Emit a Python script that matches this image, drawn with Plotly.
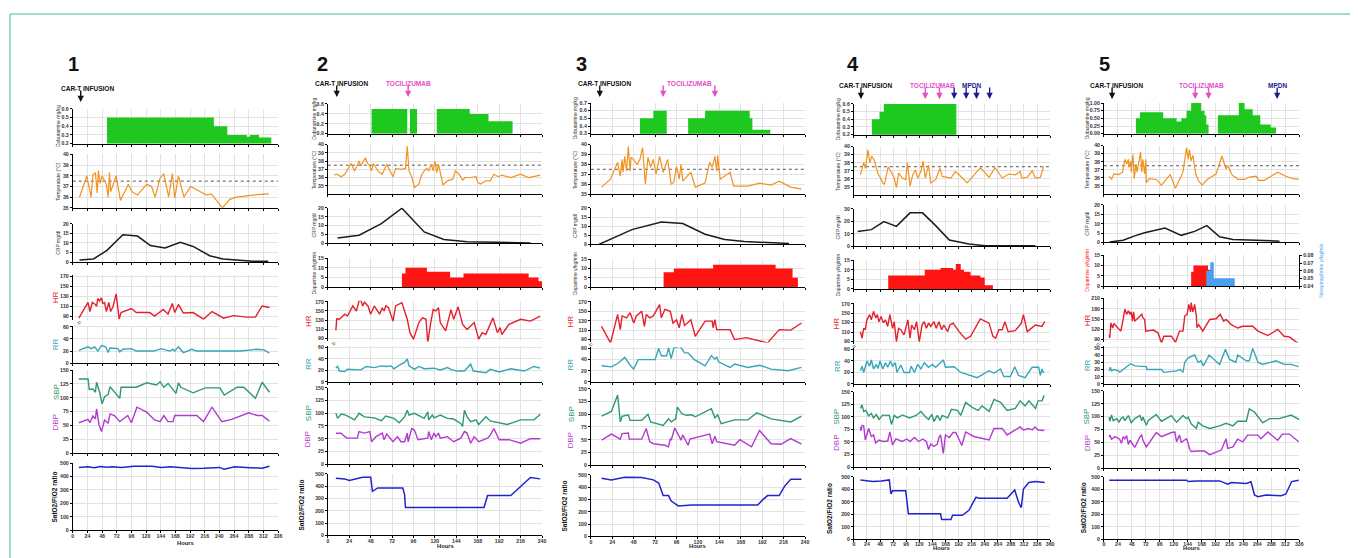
import plotly.graph_objects as go

W, H = 1358, 558
FONT = "Liberation Sans"
# the page body adds an 8px margin around the plot div; compensate so the
# picture lines up with the reference pixel positions
OFF = 8

# ---------------- DATA ----------------
FEVER = 37.5
# Patient 1
P1_DEX_X = [56, 231, 253, 285, 290, 305, 325]
P1_DEX = [0.5, 0.4, 0.3, 0.28, 0.3, 0.27, 0.27]
P1_TEMP_H = [11,23,30,33,37,40,42,45,48,52,55,58,60,62,65,71,78,91,97,106,121,129,135,143,149,157,163,167,173,182,193,208,219,227,245,257,268,295,321]
P1_TEMP = [36.0,38.0,36.0,38.1,38.3,36.4,38.5,37.3,38.0,37.5,37.2,36.0,38.3,36.5,37.0,38.0,35.7,37.2,36.5,36.2,37.2,37.0,36.0,37.8,38.2,36.0,38.2,35.9,38.0,36.0,37.0,36.5,36.2,36.3,35.0,35.8,36.0,36.2,36.3]
P1_CRP_H = [11,34,56,82,106,127,151,176,197,224,246,268,295,320]
P1_CRP = [1.2,1.7,6.2,14.3,13.6,8.7,7.4,10.4,8.2,3.4,1.7,1.0,0.5,0.5]
P1_HR_H = [10,25,28,32,37,39,41,44,47,49,52,55,59,62,66,71,76,79,96,104,126,134,148,156,163,167,173,181,197,214,228,247,263,285,299,310,322]
P1_HR = [87,118,100,118,114,110,126,121,127,116,118,100,118,100,110,135,85,98,106,98,98,91,104,95,116,98,114,97,98,85,100,87,92,89,89,111,108]
P1_RR_H = [10,25,30,36,41,47,54,58,61,74,77,82,96,104,132,145,159,164,167,173,181,195,203,274,302,313,322]
P1_RR = [21,27,24,27,20,29,27,17.5,25,24,18.6,23,24,20,20,24,20,23,20,27,17.5,23,20,20,23,22,16.5]
P1_SBP_H = [10,25,27,33,37,39,44,48,52,58,61,77,79,104,121,137,143,149,156,164,169,173,177,197,217,241,248,269,280,299,310,322]
P1_SBP = [134,134,115,116,110,128,110,89,102,106,120,99,119,119,127,123,129,119,126,116,108,127,119,109,118,118,105,119,119,99,128,110]
P1_DBP_H = [10,25,28,33,37,39,43,47,52,58,61,68,77,90,96,105,121,134,143,149,156,164,167,203,214,228,244,260,288,302,310,322]
P1_DBP = [55,61,55,67,62,80,51,39,60,54,71,68,57,68,55,83,74,60,57,68,57,57,68,68,57,83,57,61,73,68,68,58]
P1_SPO2_H = [10,25,35,45,55,65,80,100,130,145,160,175,195,215,240,248,265,290,310,322]
P1_SPO2 = [468,472,466,475,470,472,468,476,476,468,473,468,460,462,468,455,472,466,462,476]

# Patient 2
P2_DEX_X = [49, 89, 92, 100, 122, 159, 180, 207]
P2_DEX = [0.5, 0, 0.5, 0, 0.5, 0.4, 0.25, 0.25]
P2_TEMP_H = [7,10,15,19,26,30,33,35,37,39,42,44,47,49,51,56,61,66,69,73,76,82,87,89,91,94,97,102,105,108,111,113,116,118,120,122,124,126,129,134,140,143,147,151,154,160,166,168,171,177,182,186,191,195,205,216,225,238]
P2_TEMP = [36.3,36.4,36.1,36.4,37.7,36.8,37.5,38.0,37.4,37.8,38.4,37.8,37.4,36.8,37.7,36.8,36.4,37.6,37.0,36.1,37.1,37.0,37.1,39.8,36.8,36.1,34.8,35.2,36.3,36.8,37.1,36.8,37.6,36.8,38.0,36.6,37.6,36.6,35.1,35.6,35.8,36.8,36.4,35.7,36.0,36.0,36.1,35.4,35.2,35.6,35.6,36.4,36.1,36.3,36.0,36.4,36.0,36.3]
P2_CRP_H = [11,35,60,83,108,130,156,186,227]
P2_CRP = [3.1,4.6,11.1,19.8,6.5,2.2,0.9,0.6,0.3]
P2_DOP_X = [83, 87, 111, 137, 152, 225, 236, 240]
P2_DOP = [7, 10, 8, 5, 7, 5, 3, 3]
P2_HR_H = [9,10,13,19,22,28,32,36,39,41,45,48,52,58,61,63,65,68,73,76,83,89,92,96,102,106,110,112,115,118,121,124,126,132,138,141,146,151,156,164,169,173,177,185,190,193,195,203,216,227,238]
P2_HR = [108,133,132,143,139,161,150,179,161,169,161,143,161,143,157,150,161,157,128,161,168,132,103,89,125,135,132,81,121,153,150,157,125,107,153,132,159,121,110,125,89,103,99,135,103,114,99,121,132,128,139]
P2_RR_H = [9,11,13,19,22,37,43,52,60,65,71,74,82,86,89,91,97,102,108,119,126,134,138,145,153,160,163,177,182,192,205,220,231,238]
P2_RR = [24.5,27,19,18,22,21,27,25,28,27,28,23,31,34,40,28,22,27,23,24,21,25,22,19,19,31,19,16,22,17.5,23,19,27,24]
P2_SBP_H = [9,11,15,20,30,35,41,52,60,65,74,80,86,89,91,97,108,112,113,117,119,126,134,141,149,151,153,156,160,166,169,177,182,192,201,216,231,238]
P2_SBP = [100,90,98.5,96.5,87,100,93,91,85.5,94.6,90,81.5,93,106,96.5,100,90,103,87,96.5,91,96.5,90,88.7,80,74,106,93,83.5,87,78,93,85,82,78,87,87,98]
P2_DBP_H = [9,15,19,22,33,35,41,47,49,54,61,63,66,73,78,82,86,89,90,94,97,101,112,113,116,119,121,124,126,134,141,149,153,156,160,164,169,179,182,186,192,203,216,227,238]
P2_DBP = [60.7,60.7,54,51,51,64,61,64,44,54,61,48,59,44,54,44,44,61,44,70,67,48,51,64,48,61,54,61,51,54,44,51,64,61,41,54,44,51,57,70,48,48,41,50,50]
P2_SPO2_H = [9,19,24,30,39,48,50,56,84,86,87,175,179,205,218,227,238]
P2_SPO2 = [465,460,447,460,473,473,359,386,386,332,226,226,324,324,412,471,460]

# Patient 3
P3_DEX_X = [55, 70, 85, 109, 128, 178, 181, 201]
P3_DEX = [0.5, 0.6, 0, 0.5, 0.6, 0.5, 0.35, 0.35]
P3_TEMP_H = [12,22,30,33,35,36,38,40,42,44,45,48,49,52,55,58,61,64,67,70,73,77,81,86,90,93,96,99,101,103,107,112,117,128,133,136,139,141,142,145,156,160,176,189,202,211,224,236]
P3_TEMP = [35.7,36.5,38.2,36.8,38.5,37.2,38.8,37.3,39.8,37.3,38.7,38.5,38.3,38.0,38.5,39.7,36.0,38.7,37.7,38.5,37.0,38.8,37.2,38.5,36.0,36.2,37.8,36.5,38.0,36.3,36.7,37.2,35.7,36.1,38.2,37.7,38.8,37.3,38.9,36.5,37.2,35.8,35.8,36.1,35.9,36.3,35.7,35.5]
P3_CRP_H = [9,46,79,103,128,150,172,202,222]
P3_CRP = [0,8.1,12.3,11.4,5.6,2.7,1.6,1.1,0.5]
P3_DOP_X = [81.5, 93, 137, 207, 226, 232]
P3_DOP = [8, 10, 12, 10, 5, 5]
P3_HR_H = [12,22,30,33,35,40,44,48,51,57,60,62,66,70,77,79,83,89,92,96,99,102,105,112,117,128,136,137,139,141,156,161,174,195,198,211,224,236]
P3_HR = [118,83,143,111,140,136,147,125,140,150,118,143,136,140,164,136,154,150,125,132,115,143,120,132,97,129,129,115,132,111,111,90,94,84,83,111,110,125]
P3_RR_H = [12,23,30,38,44,48,53,72,76,79,85,87,90,93,100,105,109,116,128,135,139,141,143,156,161,176,189,202,221,236]
P3_RR = [29,27,33,44,30,23,40,40,60,47,47,61,42,61,64,52,52,40,29,47,41,45,36,26,32,26,30,23,20,26]
P3_SBP_H = [12,23,30,33,35,42,44,57,64,67,81,87,90,95,97,102,107,113,117,133,135,139,142,146,161,176,186,202,224,236]
P3_SBP = [96.5,105.6,138,85,96,99,88,88,100,85,78,91,85,91,114,101,98,99,95,108,111,93,99,81.5,89,89,103,91,85,96.5]
P3_DBP_H = [12,23,33,35,42,43,57,62,66,70,83,87,89,90,94,98,101,103,109,111,133,136,139,141,161,167,180,189,202,213,224,236]
P3_DBP = [49,61,51,62,63,51,51,72,46,42,39,36,52,49,73,59,49,59,39,51,61,42,57,46,39,50,36,68,42,41,52,41]
P3_SPO2_H = [12,23,38,57,70,76,81,87,90,98,113,187,193,198,211,217,224,236]
P3_SPO2 = [473,460,481,479,460,434,332,332,287,247,255,255,301,332,332,407,465,465]

# Patient 4
P4_DEX_X = [33, 47, 55, 188]
P4_DEX = [0.4, 0.5, 0.6, 0.6]
P4_TEMP_H = [12,15,18,21,26,29,33,38,41,44,48,53,56,59,63,68,74,78,82,89,95,98,103,108,113,117,123,127,131,137,141,150,158,162,178,186,193,208,223,232,248,259,272,284,296,305,308,318,327,333,342,348]
P4_TEMP = [36.5,37.3,38.0,37.3,39.6,38.0,38.8,38.2,37.3,36.7,36.2,35.5,35.3,36.1,37.5,36.9,36.1,34.9,36.7,36.1,35.9,38.0,35.1,36.5,37.1,36.1,36.9,38.2,36.1,37.7,35.5,35.9,37.3,36.3,36.1,36.9,36.5,35.5,36.7,37.4,36.2,37.4,36.1,36.6,36.5,36.9,36.1,36.2,37.0,36.1,36.2,37.5]
P4_CRP_H = [7,32,55,78,103,126,150,175,211,241,333]
P4_CRP = [12,13.4,19.8,16,26.8,26.8,16.6,5.1,1.9,0.5,0.5]
P4_DOP_X = [63, 130, 159, 182, 187, 196, 202, 214, 232, 240, 255]
P4_DOP = [7, 10, 11, 10, 13, 10, 9, 7, 6, 2, 2]
P4_HR_H = [12,15,18,21,24,29,32,36,40,43,46,50,54,58,62,66,71,74,78,82,86,92,99,103,106,111,115,120,125,129,133,137,141,147,151,156,161,165,172,176,182,186,193,205,214,232,248,255,260,266,272,277,283,296,307,311,318,333,345,350]
P4_HR = [111,97,118,115,136,147,136,154,140,147,132,143,130,136,122,147,118,132,90,118,115,104,136,97,125,115,132,90,125,132,118,129,122,132,118,132,115,125,111,125,129,122,111,95,101,138,129,101,97,115,115,132,111,113,129,147,111,125,122,132]
P4_RR_H = [12,15,18,21,24,29,32,36,41,44,48,53,58,62,67,71,76,79,86,92,102,105,111,117,123,129,137,144,150,159,164,168,184,196,211,226,248,257,269,275,287,295,302,314,327,339,342,345,348]
P4_RR = [23,31,20,29,40,31,42,26,34,27,40,26,37,29,40,31,37,20,33,20,20,31,20,34,26,37,29,34,29,37,42,29,30,20,15,11,23,19,26,13,13,30,15,11,29,29,15,26,19]
P4_SBP_H = [12,15,18,22,27,32,36,41,46,53,59,65,69,74,80,89,102,114,123,129,137,143,147,153,158,162,172,179,190,196,205,217,228,235,248,257,269,281,296,305,314,321,333,338,345,349]
P4_SBP = [117,124,111,113,102,107,98,105,95,104,103,103,85,103,98,104,98,103,111,103,95,105,91,103,93,103,98,115,113,103,129,119,113,122,111,135,129,113,117,132,122,132,117,132,132,143]
P4_DBP_H = [12,13,15,18,21,24,27,32,36,40,46,53,62,66,71,77,89,97,103,111,119,126,133,137,141,147,153,156,159,164,168,175,182,187,198,205,220,248,257,272,281,305,311,321,327,332,338,349]
P4_DBP = [80,72,83,82,54,64,77,61,64,48,54,51,52,70,44,56,51,56,51,59,51,56,51,35,46,41,46,59,64,27,64,59,69,69,43,70,61,54,77,77,64,80,74,77,74,80,74,73]
P4_SPO2_H = [12,22,35,50,65,68,71,95,100,159,161,178,181,199,211,224,229,281,295,302,307,311,321,333,350]
P4_SPO2 = [476,468,463,468,476,363,389,389,205,205,158,158,192,192,232,337,329,329,395,297,253,403,455,463,455]

# Patient 5
P5_DEX_X = [55,62,102,125,133,142,150,167,173,176,180,196,232,242,256,269,287,296]
P5_DEX = [0.5,0.7,0.5,0.4,0.5,0.75,1.0,0.75,0.6,0.3,0,0.6,1.0,0.8,0.6,0.3,0.2,0.2]
P5_TEMP_H = [9,13,17,25,32,36,39,42,43,46,47,50,52,55,57,60,63,65,67,70,72,73,78,90,99,114,123,136,142,145,147,150,153,158,162,169,176,193,203,210,213,217,221,226,230,242,250,262,266,276,285,299,313,325,335]
P5_TEMP = [36.2,35.8,36.5,36.4,36.7,38.3,37.7,38.3,37.3,38.1,36.7,38.9,35.9,37.7,36.7,38.1,39.2,36.7,38.3,36.5,38.3,35.4,35.9,35.8,35.1,36.4,34.7,36.7,39.7,38.3,39.5,38.1,38.8,36.5,35.7,35.1,35.7,36.5,38.7,37.1,37.5,36.9,36.3,36.1,35.8,35.8,36.1,36.2,35.7,35.7,36.1,36.7,36.2,35.9,35.8]
P5_CRP_H = [10,33,53,70,105,133,156,177,199,222,262,302]
P5_CRP = [0.3,1.2,3.5,5.2,7.7,3.8,5.9,9.0,3.0,1.6,1.2,0.7]
P5_DOP_X = [150, 154, 179, 185]
P5_DOP = [7, 10, 8, 8]
P5_NOR_X = [176, 183, 189, 225]
P5_NOR = [0.06, 0.071, 0.05, 0.05]
P5_HR_H = [9,10,12,15,17,22,29,33,36,39,42,45,47,49,51,53,59,65,67,70,72,85,93,99,103,116,123,130,136,139,143,146,149,150,153,156,159,160,163,170,182,193,200,206,210,219,230,239,256,265,282,299,310,319,335]
P5_HR = [105,95,139,124,137,129,115,149,179,164,174,164,171,144,171,144,154,164,154,149,115,118,110,80,100,100,82,115,115,159,164,193,171,198,171,193,159,125,134,115,149,151,164,144,149,134,124,129,129,115,102,120,100,98,78]
P5_RR_H = [9,11,13,17,25,27,33,46,53,73,74,99,103,125,131,136,139,145,156,162,167,171,181,187,199,209,216,227,230,245,250,256,265,273,296,310,322,335]
P5_RR = [18,23,18,20,18,16,20,28,25,24,20,20,16,18,20,16,30,36,40,30,32,25,40,36,27,48,34,30,40,32,32,49,30,27,32,27,27,24]
P5_SBP_H = [9,10,13,16,22,26,29,33,36,42,47,53,62,65,67,73,76,90,99,116,125,136,142,145,150,159,162,170,182,199,210,222,230,245,250,259,273,285,302,322,336]
P5_SBP = [99,91,103,92,96,89,96,99,92,102,88,96,102,92,99,83,92,104,91,102,89,102,96,99,86,77,89,82,77,82,87,82,91,91,115,109,88,96,96,103,94]
P5_DBP_H = [9,10,13,19,27,30,33,36,39,42,45,53,62,65,67,73,90,99,116,122,125,130,133,142,145,147,150,159,173,182,202,210,213,222,230,239,247,265,270,282,299,307,319,335]
P5_DBP = [61,64,56,61,56,48,61,57,63,46,54,40,61,64,54,41,69,61,69,70,51,64,50,57,48,38,32,33,33,26,35,57,38,41,56,51,64,64,57,70,54,66,66,51]
P5_SPO2_H = [9,67,142,145,159,199,213,219,245,253,259,265,279,305,313,323,335]
P5_SPO2 = [474,474,474,463,468,468,442,455,447,461,355,342,355,350,363,463,474]

# Treatment events (hours)
CART_H = [13, 10, 10, 13, 14]
TOCI_H = [[], [90], [81, 139], [131, 157], [157, 180]]
MPDN_H = [[], [], [], [184, 206, 225, 249], [298]]

# ---------------- STYLE / LAYOUT ----------------
C = dict(dex="#1ec81e", temp="#f29320", crp="#1c1c1c", dop="#ff1414", nor="#4b9ef0",
         hr="#e3202c", rr="#35a6b8", sbp="#2c9a6e", dbp="#b23ad0", spo2="#2323cc")
GRID = "#e2e2e2"
TICKFONT = dict(family=FONT, size=5.2, color="#333", weight="bold")

COLS = [
    dict(num="1", numx=65, x0=72, x1=278, xmax=336, laby=81, tip=100, hours_y=551,
         lab_off=15, big_off=17, sat_off=18, sbp_lab=110, dbp_lab=55,
         data=dict(dex=(P1_DEX_X, P1_DEX), temp=(P1_TEMP_H, P1_TEMP), crp=(P1_CRP_H, P1_CRP),
                   hr=(P1_HR_H, P1_HR), rr=(P1_RR_H, P1_RR), sbp=(P1_SBP_H, P1_SBP),
                   dbp=(P1_DBP_H, P1_DBP), spo2=(P1_SPO2_H, P1_SPO2)),
         panels=dict(dex=(107, 142, [0.2, 0.6], [0.2, 0.3, 0.4, 0.5, 0.6], ".1f"),
                     temp=(153, 207, [35, 40], [35, 36, 37, 38, 39, 40], "d"),
                     crp=(223, 262, [0, 20], [0, 5, 10, 15, 20], "d"),
                     hr=(275, 320, [84, 172], [90, 110, 130, 150, 170], "d"),
                     rr=(326, 364, [0, 62], [0, 20, 40, 60], "d"),
                     bp=(371, 455, [0, 150], [0, 25, 50, 75, 100, 125, 150], "d"),
                     spo2=(465, 533, [0, 500], [0, 100, 200, 300, 400, 500], "d"))),
    dict(num="2", numx=315, x0=328, x1=543, xmax=240, laby=76, tip=95, hours_y=554,
         lab_off=14, big_off=20, sat_off=26, sbp_lab=100, dbp_lab=48,
         data=dict(dex=(P2_DEX_X, P2_DEX), temp=(P2_TEMP_H, P2_TEMP), crp=(P2_CRP_H, P2_CRP),
                   dop=(P2_DOP_X, P2_DOP),
                   hr=(P2_HR_H, P2_HR), rr=(P2_RR_H, P2_RR), sbp=(P2_SBP_H, P2_SBP),
                   dbp=(P2_DBP_H, P2_DBP), spo2=(P2_SPO2_H, P2_SPO2)),
         panels=dict(dex=(102, 132, [0, 0.6], [0, 0.2, 0.4, 0.6], ".1f"),
                     temp=(143, 193, [34, 40], [35, 36, 37, 38, 39, 40], "d"),
                     crp=(207, 243, [0, 20], [0, 5, 10, 15, 20], "d"),
                     dop=(258, 287, [0, 15], [0, 5, 10, 15], "d"),
                     hr=(301, 342, [84, 172], [90, 110, 130, 150, 170], "d"),
                     rr=(347, 383, [0, 62], [0, 20, 40, 60], "d"),
                     bp=(389, 466, [0, 150], [0, 25, 50, 75, 100, 125, 150], "d"),
                     spo2=(476, 538, [0, 500], [0, 100, 200, 300, 400, 500], "d"))),
    dict(num="3", numx=583, x0=592, x1=807, xmax=240, laby=76, tip=95, hours_y=554,
         lab_off=16, big_off=20, sat_off=26, sbp_lab=100, dbp_lab=48,
         data=dict(dex=(P3_DEX_X, P3_DEX), temp=(P3_TEMP_H, P3_TEMP), crp=(P3_CRP_H, P3_CRP),
                   dop=(P3_DOP_X, P3_DOP),
                   hr=(P3_HR_H, P3_HR), rr=(P3_RR_H, P3_RR), sbp=(P3_SBP_H, P3_SBP),
                   dbp=(P3_DBP_H, P3_DBP), spo2=(P3_SPO2_H, P3_SPO2)),
         panels=dict(dex=(101, 132, [0.3, 0.7], [0.3, 0.4, 0.5, 0.6, 0.7], ".1f"),
                     temp=(143, 193, [35, 40], [35, 36, 37, 38, 39, 40], "d"),
                     crp=(207, 244, [0, 20], [0, 5, 10, 15, 20], "d"),
                     dop=(259, 287, [0, 15], [0, 5, 10, 15], "d"),
                     hr=(301, 343, [84, 172], [90, 110, 130, 150, 170], "d"),
                     rr=(348, 383, [0, 62], [0, 20, 40, 60], "d"),
                     bp=(390, 467, [0, 150], [0, 25, 50, 75, 100, 125, 150], "d"),
                     spo2=(477, 539, [0, 500], [0, 100, 200, 300, 400, 500], "d"))),
    dict(num="4", numx=855, x0=856, x1=1053, xmax=360, laby=78, tip=97, hours_y=555.5,
         lab_off=16, big_off=17, sat_off=25, sbp_lab=100, dbp_lab=48,
         data=dict(dex=(P4_DEX_X, P4_DEX), temp=(P4_TEMP_H, P4_TEMP), crp=(P4_CRP_H, P4_CRP),
                   dop=(P4_DOP_X, P4_DOP),
                   hr=(P4_HR_H, P4_HR), rr=(P4_RR_H, P4_RR), sbp=(P4_SBP_H, P4_SBP),
                   dbp=(P4_DBP_H, P4_DBP), spo2=(P4_SPO2_H, P4_SPO2)),
         panels=dict(dex=(102, 133, [0.2, 0.6], [0.2, 0.3, 0.4, 0.5, 0.6], ".1f"),
                     temp=(145, 194, [34, 40], [35, 36, 37, 38, 39, 40], "d"),
                     crp=(208, 246, [0, 30], [0, 10, 20, 30], "d"),
                     dop=(260, 289, [0, 15], [0, 5, 10, 15], "d"),
                     hr=(303, 345, [84, 172], [90, 110, 130, 150, 170], "d"),
                     rr=(349, 385, [0, 62], [0, 20, 40, 60], "d"),
                     bp=(393, 469, [0, 150], [0, 25, 50, 75, 100, 125, 150], "d"),
                     spo2=(479, 542, [0, 500], [0, 100, 200, 300, 400, 500], "d"))),
    dict(num="5", numx=1115, x0=1107, x1=1303, xmax=336, laby=78, tip=97, hours_y=555.5,
         lab_off=17, big_off=17, sat_off=21, sbp_lab=100, dbp_lab=48,
         data=dict(dex=(P5_DEX_X, P5_DEX), temp=(P5_TEMP_H, P5_TEMP), crp=(P5_CRP_H, P5_CRP),
                   dop=(P5_DOP_X, P5_DOP), nor=(P5_NOR_X, P5_NOR),
                   hr=(P5_HR_H, P5_HR), rr=(P5_RR_H, P5_RR), sbp=(P5_SBP_H, P5_SBP),
                   dbp=(P5_DBP_H, P5_DBP), spo2=(P5_SPO2_H, P5_SPO2)),
         panels=dict(dex=(101, 132, [0, 1], [0, 0.25, 0.5, 0.75, 1.0], ".2f"),
                     temp=(144, 193, [34, 40], [35, 36, 37, 38, 39, 40], "d"),
                     crp=(204, 242, [0, 20], [0, 5, 10, 15, 20], "d"),
                     dop=(255, 286, [0, 15], [0, 5, 10, 15], "d"),
                     hr=(298, 343, [82, 212], [90, 120, 150, 180, 210], "d"),
                     rr=(347, 385, [0, 52], [0, 10, 20, 30, 40, 50], "d"),
                     bp=(392, 470, [0, 150], [0, 25, 50, 75, 100, 125, 150], "d"),
                     spo2=(479, 542, [0, 500], [0, 100, 200, 300, 400, 500], "d"))),
]

TITLES = dict(dex="Dobutamine mg/kg", temp="Temperature (°C)", crp="CRP mg/dl",
              dop="Dopamine γ/kg/min")

fig = go.Figure()
layout = {}
annotations = []
counter = [0]


def px(x):
    return (x - OFF) / W


def py(y):
    return 1 - (y - OFF) / H


def new_axes(col, top, bot, yrange, ytick, yfmt, xline=True, xlabels=False):
    counter[0] += 1
    n = counter[0]
    xa, ya = ("xaxis", "yaxis") if n == 1 else (f"xaxis{n}", f"yaxis{n}")
    xr, yr = ("x", "y") if n == 1 else (f"x{n}", f"y{n}")
    layout[xa] = dict(domain=[px(col["x0"]), px(col["x1"])], anchor=yr,
                      range=[0, col["xmax"]], tickvals=list(range(0, col["xmax"] + 1, 24)),
                      showticklabels=xlabels, showgrid=True, gridcolor=GRID, gridwidth=1,
                      showline=xline, linecolor="black", linewidth=1,
                      ticks="outside" if xline else "", ticklen=2, tickcolor="black",
                      zeroline=False, tickfont=TICKFONT, fixedrange=True)
    if xlabels:
        layout[xa]["ticklabelstandoff"] = -2
    layout[ya] = dict(domain=[py(bot), py(top)], anchor=xr, range=yrange, tickvals=ytick,
                      tickformat=yfmt, showgrid=True, gridcolor=GRID, gridwidth=1,
                      showline=True, linecolor="black", linewidth=1, ticks="outside",
                      ticklen=2, tickcolor="black", zeroline=False, tickfont=TICKFONT,
                      fixedrange=True)
    return xr, yr


def step_fill(xs, ys, color, xr, yr):
    fig.add_trace(go.Scatter(x=xs, y=ys, mode="lines", line=dict(shape="hv", width=0, color=color),
                             fill="tozeroy", fillcolor=color, xaxis=xr, yaxis=yr,
                             hoverinfo="skip", showlegend=False))


def line(xs, ys, color, xr, yr, width=1.4, dash="solid"):
    fig.add_trace(go.Scatter(x=xs, y=ys, mode="lines", line=dict(color=color, width=width, dash=dash),
                             xaxis=xr, yaxis=yr, hoverinfo="skip", showlegend=False))


def vtext(text, x, y, size, color="#333", bold=False, yref="paper"):
    annotations.append(dict(text=f"<b>{text}</b>" if bold else text, x=px(x), xref="paper",
                            y=y if yref != "paper" else py(y), yref=yref, textangle=-90,
                            showarrow=False, font=dict(family=FONT, size=size, color=color),
                            xanchor="center", yanchor="middle"))


def event_arrows(hours, color, xr, tip):
    for h in hours:
        annotations.append(dict(x=h, xref=xr, y=py(tip), yref="paper", text="", showarrow=True,
                                ax=0, ay=-13, arrowhead=2, arrowsize=0.9, arrowwidth=1.4,
                                arrowcolor=color))


for ci, col in enumerate(COLS):
    P = col["panels"]
    D = col["data"]
    x0 = col["x0"]
    dex_xr = None
    for key in ["dex", "temp", "crp", "dop"]:
        if key not in P:
            continue
        top, bot, rng, tv, fmt = P[key]
        xr, yr = new_axes(col, top, bot, rng, tv, fmt)
        if key == "dex":
            dex_xr = xr
            step_fill(D["dex"][0], D["dex"][1], C["dex"], xr, yr)
        elif key == "temp":
            line([0, col["xmax"]], [FEVER, FEVER], "#555", xr, yr, width=1, dash="dot")
            line(D["temp"][0], D["temp"][1], C["temp"], xr, yr, width=1.2)
        elif key == "crp":
            line(D["crp"][0], D["crp"][1], C["crp"], xr, yr, width=1.5)
        elif key == "dop":
            step_fill(D["dop"][0], D["dop"][1], C["dop"], xr, yr)
            if "nor" in D:
                counter[0] += 1
                n2 = counter[0]
                layout[f"yaxis{n2}"] = dict(overlaying=yr, side="right", anchor=xr,
                                            range=[0.04, 0.08],
                                            tickvals=[0.04, 0.05, 0.06, 0.07, 0.08],
                                            tickformat=".2f", showgrid=False, showline=True,
                                            linecolor="black", linewidth=1, ticks="outside",
                                            ticklen=2, tickcolor="black", zeroline=False,
                                            tickfont=TICKFONT, fixedrange=True)
                step_fill(D["nor"][0], D["nor"][1], C["nor"], xr, f"y{n2}")
                vtext("Norepinephrine γ/kg/min", col["x1"] + 22, (top + bot) / 2, 5, C["nor"])
        title_color = C["dop"] if (key == "dop" and "nor" in D) else "#333"
        vtext(TITLES[key], x0 - col["lab_off"], (top + bot) / 2, 5, title_color)

    # HR / RR
    top, bot, rng, tv, fmt = P["hr"]
    xr, yr = new_axes(col, top, bot, rng, tv, fmt, xline=False)
    line(D["hr"][0], D["hr"][1], C["hr"], xr, yr)
    vtext("HR", x0 - col["big_off"], (top + bot) / 2, 8, C["hr"])
    hr_bot = bot
    top, bot, rng, tv, fmt = P["rr"]
    xr, yr = new_axes(col, top, bot, rng, tv, fmt)
    line(D["rr"][0], D["rr"][1], C["rr"], xr, yr)
    vtext("RR", x0 - col["big_off"], (top + bot) / 2, 8, C["rr"])
    # axis break mark between HR and RR
    annotations.append(dict(text="=", x=px(x0), xref="paper", y=py((hr_bot + top) / 2),
                            yref="paper", showarrow=False, textangle=-30,
                            font=dict(family=FONT, size=7, color="#222")))

    # BP
    top, bot, rng, tv, fmt = P["bp"]
    xr, yr = new_axes(col, top, bot, rng, tv, fmt)
    line(D["sbp"][0], D["sbp"][1], C["sbp"], xr, yr)
    line(D["dbp"][0], D["dbp"][1], C["dbp"], xr, yr)
    vtext("SBP", x0 - col["big_off"], col["sbp_lab"], 8, C["sbp"], yref=yr)
    vtext("DBP", x0 - col["big_off"], col["dbp_lab"], 8, C["dbp"], yref=yr)

    # SpO2/FiO2
    top, bot, rng, tv, fmt = P["spo2"]
    xr, yr = new_axes(col, top, bot, rng, tv, fmt, xlabels=True)
    line(D["spo2"][0], D["spo2"][1], C["spo2"], xr, yr, width=1.5)
    vtext("SatO2/FiO2 ratio", x0 - col["sat_off"], (top + bot) / 2, 6.5, "#111", bold=True)
    annotations.append(dict(text="<b>Hours</b>", x=px((col["x0"] + col["x1"]) / 2), xref="paper",
                            y=py(col["hours_y"]), yref="paper", showarrow=False,
                            font=dict(family=FONT, size=5.8, color="#222")))

    # panel number
    annotations.append(dict(text=f"<b>{col['num']}</b>", x=px(col["numx"]), xref="paper",
                            y=py(48), yref="paper", showarrow=False,
                            font=dict(family=FONT, size=20, color="#111")))

    # event labels and arrows
    def ev_label(text, hours, color):
        annotations.append(dict(text=f"<b>{text}</b>", x=sum(hours) / len(hours), xref=dex_xr,
                                y=py(col["laby"]), yref="paper", showarrow=False,
                                font=dict(family=FONT, size=6.5, color=color)))
        event_arrows(hours, color, dex_xr, col["tip"])

    annotations.append(dict(text="<b>CAR-T INFUSION</b>", x=CART_H[ci], xref=dex_xr,
                            xanchor="left", xshift=-22 if ci == 0 else -24,
                            y=py(col["laby"]), yref="paper", showarrow=False,
                            font=dict(family=FONT, size=6.5, color="#111")))
    event_arrows([CART_H[ci]], "#111", dex_xr, col["tip"])
    if TOCI_H[ci]:
        ev_label("TOCILIZUMAB", TOCI_H[ci], "#e24fc8")
    if MPDN_H[ci]:
        ev_label("MPDN", MPDN_H[ci], "#1b1b8f")

shapes = [
    dict(type="line", xref="paper", yref="paper", x0=px(9), x1=px(9), y0=0, y1=py(11),
         line=dict(color="#7dd3bd", width=1.5)),
    dict(type="line", xref="paper", yref="paper", x0=px(9), x1=1, y0=py(11), y1=py(11),
         line=dict(color="#7dd3bd", width=1.5)),
]

fig.update_layout(**layout)
fig.update_layout(width=W, height=H, margin=dict(l=0, r=0, t=0, b=0), autosize=False,
                  paper_bgcolor="white", plot_bgcolor="white", showlegend=False,
                  annotations=annotations, shapes=shapes,
                  font=dict(family=FONT, size=7, color="#333"))

fig.write_html("out.html")
